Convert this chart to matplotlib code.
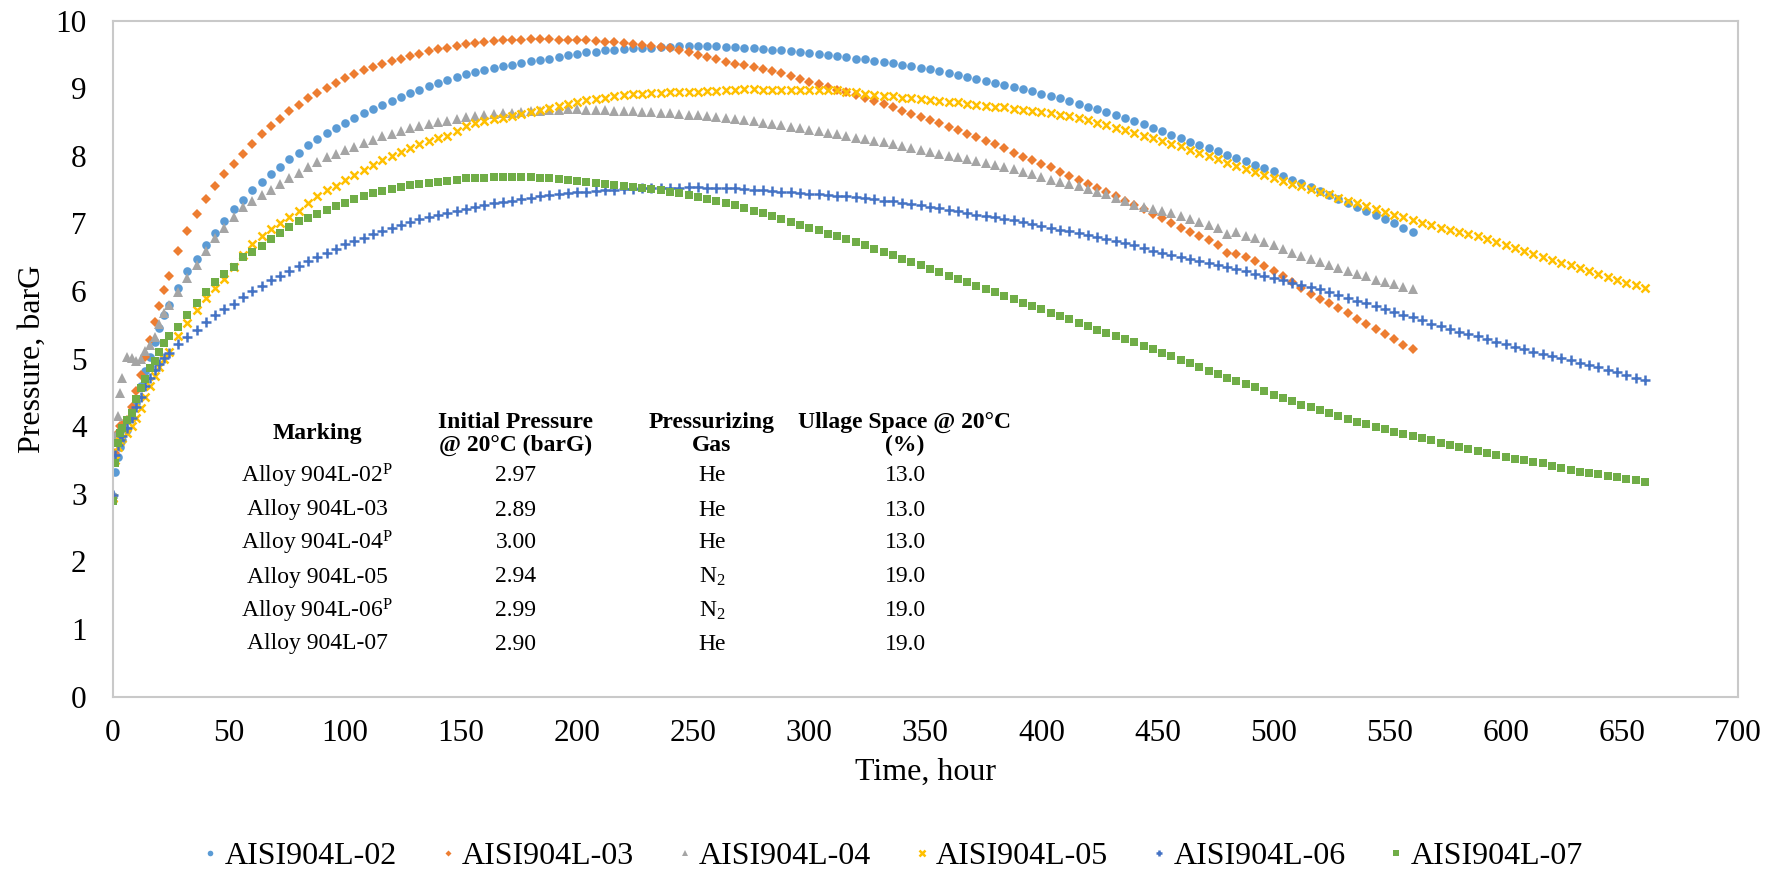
import matplotlib
matplotlib.use("Agg")
from matplotlib import pyplot as plt

plt.rcParams['font.family'] = ['Liberation Serif', 'DejaVu Serif']
plt.rcParams['mathtext.fontset'] = 'custom'
plt.rcParams['mathtext.rm'] = 'Liberation Serif'
plt.rcParams['mathtext.it'] = 'Liberation Serif:italic'
plt.rcParams['mathtext.bf'] = 'Liberation Serif:bold'

# sampling hours (dense at the start, then every 4 h)
HOURS_EARLY = [0, 1, 2, 3, 4, 6, 8, 10, 12, 14, 16, 18, 20, 22, 24]
HOURS_A = HOURS_EARLY + list(range(28, 561, 4))  # 02, 03, 04 stop at 560 h
HOURS_B = HOURS_EARLY + list(range(28, 661, 4))  # 05, 06, 07 stop at 660 h

# pressure, barG
P02 = [2.97, 3.32, 3.55, 3.70, 3.80, 3.95, 4.12, 4.35, 4.60, 4.82, 5.03, 5.25, 5.45, 5.64, 5.79,
       6.05, 6.29, 6.48, 6.68, 6.86, 7.04, 7.21, 7.35, 7.49, 7.61,
       7.73, 7.84, 7.95, 8.05, 8.16, 8.25, 8.34, 8.42, 8.49, 8.56,
       8.63, 8.69, 8.75, 8.81, 8.87, 8.93, 8.98, 9.03, 9.08, 9.13,
       9.17, 9.21, 9.24, 9.27, 9.30, 9.33, 9.35, 9.38, 9.40, 9.42,
       9.44, 9.47, 9.49, 9.51, 9.53, 9.54, 9.56, 9.57, 9.58, 9.59,
       9.60, 9.60, 9.61, 9.61, 9.62, 9.62, 9.62, 9.62, 9.62, 9.61,
       9.61, 9.60, 9.59, 9.58, 9.57, 9.56, 9.55, 9.53, 9.52, 9.51,
       9.49, 9.48, 9.46, 9.44, 9.43, 9.41, 9.39, 9.37, 9.35, 9.33,
       9.30, 9.28, 9.25, 9.23, 9.20, 9.17, 9.14, 9.11, 9.08, 9.05,
       9.02, 8.99, 8.96, 8.92, 8.89, 8.85, 8.81, 8.77, 8.73, 8.69,
       8.65, 8.61, 8.56, 8.52, 8.47, 8.42, 8.37, 8.31, 8.26, 8.21,
       8.16, 8.12, 8.07, 8.02, 7.97, 7.92, 7.87, 7.82, 7.77, 7.71,
       7.65, 7.60, 7.54, 7.48, 7.42, 7.36, 7.30, 7.25, 7.19, 7.13,
       7.07, 7.01, 6.94, 6.87]

P03 = [2.89, 3.60, 3.90, 4.00, 4.02, 4.10, 4.28, 4.52, 4.76, 5.02, 5.28, 5.55, 5.78, 6.02, 6.22,
       6.60, 6.89, 7.14, 7.36, 7.55, 7.73, 7.88, 8.03, 8.18, 8.32,
       8.44, 8.55, 8.66, 8.76, 8.85, 8.93, 9.01, 9.08, 9.15, 9.21,
       9.27, 9.32, 9.36, 9.40, 9.44, 9.48, 9.51, 9.55, 9.58, 9.60,
       9.63, 9.65, 9.67, 9.69, 9.70, 9.71, 9.72, 9.72, 9.73, 9.73,
       9.73, 9.72, 9.72, 9.71, 9.71, 9.70, 9.69, 9.68, 9.67, 9.66,
       9.64, 9.63, 9.61, 9.59, 9.56, 9.53, 9.50, 9.47, 9.43, 9.39,
       9.36, 9.34, 9.31, 9.28, 9.25, 9.22, 9.18, 9.14, 9.10, 9.06,
       9.02, 8.98, 8.94, 8.90, 8.86, 8.81, 8.77, 8.72, 8.67, 8.62,
       8.57, 8.53, 8.48, 8.43, 8.38, 8.33, 8.28, 8.22, 8.17, 8.11,
       8.05, 7.99, 7.94, 7.88, 7.83, 7.76, 7.70, 7.64, 7.58, 7.52,
       7.46, 7.40, 7.34, 7.27, 7.21, 7.14, 7.08, 7.01, 6.94, 6.88,
       6.81, 6.75, 6.68, 6.57, 6.55, 6.50, 6.44, 6.37, 6.29, 6.22,
       6.14, 6.04, 5.96, 5.89, 5.83, 5.75, 5.67, 5.59, 5.51, 5.44,
       5.37, 5.29, 5.21, 5.14]

P04 = [3.00, 3.85, 4.15, 4.50, 4.71, 5.02, 5.01, 4.97, 5.00, 5.11, 5.21, 5.32, 5.51, 5.67, 5.79,
       5.99, 6.19, 6.38, 6.60, 6.78, 6.94, 7.10, 7.24, 7.34, 7.42,
       7.50, 7.58, 7.67, 7.75, 7.83, 7.91, 7.98, 8.03, 8.08, 8.13,
       8.19, 8.24, 8.29, 8.33, 8.37, 8.41, 8.44, 8.47, 8.50, 8.52,
       8.55, 8.57, 8.59, 8.61, 8.62, 8.63, 8.64, 8.65, 8.66, 8.67,
       8.68, 8.68, 8.69, 8.69, 8.68, 8.68, 8.68, 8.67, 8.66, 8.66,
       8.65, 8.65, 8.64, 8.63, 8.62, 8.61, 8.60, 8.59, 8.58, 8.56,
       8.55, 8.53, 8.51, 8.49, 8.47, 8.45, 8.43, 8.41, 8.39, 8.37,
       8.34, 8.32, 8.30, 8.27, 8.25, 8.22, 8.20, 8.17, 8.15, 8.12,
       8.09, 8.06, 8.03, 8.00, 7.98, 7.95, 7.93, 7.90, 7.87, 7.83,
       7.80, 7.76, 7.73, 7.69, 7.65, 7.62, 7.58, 7.55, 7.51, 7.47,
       7.43, 7.38, 7.33, 7.28, 7.24, 7.21, 7.18, 7.15, 7.11, 7.07,
       7.02, 6.98, 6.94, 6.84, 6.87, 6.82, 6.78, 6.73, 6.68, 6.63,
       6.57, 6.52, 6.48, 6.43, 6.38, 6.34, 6.30, 6.26, 6.22, 6.17,
       6.13, 6.10, 6.06, 6.03]

P05 = [2.94, 3.50, 3.70, 3.78, 3.82, 3.90, 4.00, 4.13, 4.27, 4.43, 4.60, 4.74, 4.87, 4.99, 5.10,
       5.33, 5.53, 5.72, 5.90, 6.05, 6.18, 6.35, 6.53, 6.69, 6.81,
       6.92, 7.01, 7.09, 7.19, 7.30, 7.41, 7.49, 7.56, 7.64, 7.72,
       7.79, 7.87, 7.94, 8.00, 8.06, 8.12, 8.17, 8.22, 8.26, 8.30,
       8.37, 8.44, 8.48, 8.51, 8.54, 8.56, 8.59, 8.62, 8.65, 8.68,
       8.71, 8.74, 8.77, 8.80, 8.82, 8.84, 8.86, 8.88, 8.90, 8.92,
       8.92, 8.93, 8.93, 8.94, 8.94, 8.95, 8.95, 8.96, 8.96, 8.97,
       8.98, 8.99, 8.99, 8.98, 8.97, 8.97, 8.97, 8.97, 8.97, 8.98,
       8.98, 8.97, 8.95, 8.94, 8.92, 8.90, 8.89, 8.88, 8.86, 8.85,
       8.84, 8.83, 8.81, 8.80, 8.79, 8.77, 8.76, 8.74, 8.73, 8.72,
       8.70, 8.68, 8.67, 8.65, 8.63, 8.61, 8.59, 8.56, 8.53, 8.49,
       8.45, 8.41, 8.38, 8.34, 8.30, 8.26, 8.22, 8.18, 8.14, 8.09,
       8.05, 8.00, 7.95, 7.90, 7.85, 7.81, 7.76, 7.72, 7.68, 7.63,
       7.59, 7.55, 7.51, 7.47, 7.43, 7.38, 7.34, 7.30, 7.26, 7.22,
       7.17, 7.13, 7.09, 7.05, 7.01, 6.98, 6.94, 6.91, 6.88, 6.85,
       6.81, 6.77, 6.73, 6.68, 6.64, 6.60, 6.55, 6.51, 6.46, 6.42,
       6.38, 6.34, 6.30, 6.25, 6.21, 6.17, 6.12, 6.09, 6.05]

P06 = [2.99, 3.58, 3.72, 3.80, 3.86, 3.97, 4.12, 4.28, 4.43, 4.60, 4.72, 4.83, 4.92, 5.01, 5.09,
       5.22, 5.32, 5.42, 5.54, 5.64, 5.73, 5.81, 5.91, 6.00, 6.08,
       6.16, 6.23, 6.30, 6.37, 6.44, 6.50, 6.56, 6.62, 6.70, 6.74,
       6.79, 6.85, 6.89, 6.94, 6.98, 7.02, 7.06, 7.10, 7.13, 7.16,
       7.19, 7.22, 7.25, 7.27, 7.30, 7.32, 7.34, 7.36, 7.38, 7.40,
       7.42, 7.43, 7.45, 7.46, 7.47, 7.48, 7.49, 7.50, 7.51, 7.51,
       7.52, 7.52, 7.53, 7.53, 7.53, 7.54, 7.54, 7.53, 7.53, 7.53,
       7.52, 7.51, 7.50, 7.49, 7.48, 7.47, 7.46, 7.45, 7.44, 7.43,
       7.42, 7.41, 7.40, 7.39, 7.37, 7.36, 7.34, 7.33, 7.31, 7.29,
       7.27, 7.25, 7.23, 7.20, 7.18, 7.15, 7.13, 7.11, 7.09, 7.07,
       7.05, 7.02, 7.00, 6.97, 6.94, 6.91, 6.89, 6.86, 6.83, 6.80,
       6.77, 6.74, 6.71, 6.68, 6.64, 6.60, 6.56, 6.53, 6.50, 6.47,
       6.44, 6.41, 6.39, 6.36, 6.33, 6.29, 6.26, 6.22, 6.19, 6.16,
       6.12, 6.09, 6.06, 6.03, 5.99, 5.94, 5.90, 5.86, 5.82, 5.78,
       5.74, 5.69, 5.65, 5.61, 5.57, 5.52, 5.48, 5.44, 5.40, 5.36,
       5.33, 5.29, 5.25, 5.22, 5.18, 5.14, 5.10, 5.07, 5.04, 5.01,
       4.98, 4.94, 4.91, 4.87, 4.84, 4.80, 4.76, 4.72, 4.68]

P07 = [2.90, 3.45, 3.75, 3.90, 3.97, 4.10, 4.20, 4.40, 4.56, 4.70, 4.86, 4.97, 5.10, 5.23, 5.33,
       5.47, 5.64, 5.82, 5.98, 6.13, 6.25, 6.36, 6.50, 6.58, 6.67,
       6.77, 6.86, 6.95, 7.03, 7.08, 7.14, 7.20, 7.26, 7.31, 7.36,
       7.41, 7.45, 7.48, 7.51, 7.54, 7.57, 7.59, 7.60, 7.62, 7.63,
       7.65, 7.67, 7.68, 7.68, 7.69, 7.69, 7.69, 7.69, 7.69, 7.68,
       7.67, 7.66, 7.64, 7.63, 7.62, 7.60, 7.59, 7.57, 7.56, 7.54,
       7.53, 7.51, 7.49, 7.47, 7.45, 7.42, 7.39, 7.36, 7.33, 7.30,
       7.27, 7.23, 7.19, 7.15, 7.11, 7.07, 7.02, 6.98, 6.94, 6.90,
       6.85, 6.81, 6.77, 6.72, 6.68, 6.63, 6.58, 6.53, 6.48, 6.43,
       6.38, 6.33, 6.28, 6.23, 6.18, 6.13, 6.08, 6.03, 5.98, 5.93,
       5.88, 5.83, 5.78, 5.73, 5.68, 5.63, 5.58, 5.53, 5.48, 5.43,
       5.38, 5.34, 5.29, 5.24, 5.19, 5.14, 5.09, 5.04, 4.98, 4.93,
       4.88, 4.82, 4.77, 4.71, 4.67, 4.63, 4.58, 4.52, 4.47, 4.42,
       4.37, 4.32, 4.28, 4.24, 4.19, 4.15, 4.11, 4.07, 4.03, 3.99,
       3.96, 3.92, 3.89, 3.86, 3.83, 3.79, 3.75, 3.72, 3.69, 3.67,
       3.64, 3.61, 3.58, 3.55, 3.52, 3.50, 3.47, 3.45, 3.42, 3.39,
       3.36, 3.33, 3.31, 3.29, 3.27, 3.25, 3.22, 3.20, 3.18]

SERIES_NAMES = ["AISI904L-02", "AISI904L-03", "AISI904L-04",
                "AISI904L-05", "AISI904L-06", "AISI904L-07"]

# table drawn inside the plot
TABLE_HEADERS = ["Marking", "Initial Pressure\n@ 20°C (barG)", "Pressurizing\nGas", "Ullage Space @ 20°C\n(%)"]
TABLE_MARKING = ["Alloy 904L-02$^{\\mathrm{P}}$", "Alloy 904L-03", "Alloy 904L-04$^{\\mathrm{P}}$",
                 "Alloy 904L-05", "Alloy 904L-06$^{\\mathrm{P}}$", "Alloy 904L-07"]
TABLE_PRESSURE = ["2.97", "2.89", "3.00", "2.94", "2.99", "2.90"]
TABLE_GAS = ["He", "He", "He", "N$_2$", "N$_2$", "He"]
TABLE_ULLAGE = ["13.0", "13.0", "13.0", "19.0", "19.0", "19.0"]

W, H = 1778, 873

def fx(px):
  return px / W

def fy(py):
  return 1 - py / H

fig = plt.figure(figsize=(W / 100, H / 100), dpi=100)
ax = fig.add_axes([fx(113), fy(696.7), (1737.7 - 113) / W, (696.7 - 20.7) / H])

styles = [
  dict(marker='o', color='#5B9BD5', markersize=6.2, markeredgewidth=0),
  dict(marker='D', color='#ED7D31', markersize=4.7, markeredgewidth=0),
  dict(marker='^', color='#A5A5A5', markersize=6.6, markeredgewidth=0),
  dict(marker='x', color='#FFC000', markersize=6.3, markeredgewidth=1.8),
  dict(marker='+', color='#4472C4', markersize=7.0, markeredgewidth=1.8),
  dict(marker='s', color='#70AD47', markersize=5.8, markeredgewidth=0),
]
data = [(HOURS_A, P02), (HOURS_A, P03), (HOURS_A, P04),
        (HOURS_B, P05), (HOURS_B, P06), (HOURS_B, P07)]

for (hrs, p), name, st in zip(data, SERIES_NAMES, styles):
  assert len(hrs) == len(p), name
  ax.plot(hrs, p, linestyle='none', label=name, **st)

ax.set_xlim(0, 700)
ax.set_ylim(0, 10)
ax.set_xticks(range(0, 701, 50))
ax.set_yticks(range(0, 11))
ax.tick_params(axis='both', length=0, labelsize=22.5)
ax.tick_params(axis='x', pad=16)
ax.tick_params(axis='y', pad=19)
for s in ax.spines.values():
  s.set_color('#c9c9c9')
  s.set_linewidth(1.5)

ax.set_xlabel("Time, hour", fontsize=23)
ax.xaxis.set_label_coords(0.5, -0.09)
ax.set_ylabel("Pressure, barG", fontsize=23)
ax.yaxis.set_label_coords(-0.041, 0.5)

# table
col_x = [317, 516, 712, 905]
head_y = 434
row_y = [476, 510, 543, 577, 611, 644]
for cx, txt in zip(col_x, TABLE_HEADERS):
  fig.text(fx(cx), fy(head_y), txt, ha='center', va='center', fontsize=17,
           fontweight='bold', linespacing=1.15)
columns = [TABLE_MARKING, TABLE_PRESSURE, TABLE_GAS, TABLE_ULLAGE]
for cx, col in zip(col_x, columns):
  for ry, txt in zip(row_y, col):
    fig.text(fx(cx), fy(ry), txt, ha='center', va='center', fontsize=17)

fig.legend(loc='center', bbox_to_anchor=(0.502, fy(856)), ncol=6, frameon=False,
           fontsize=23, handlelength=0.5, handletextpad=0.2, columnspacing=1.33,
           markerscale=0.65)

fig.savefig("out.png", dpi=100)
